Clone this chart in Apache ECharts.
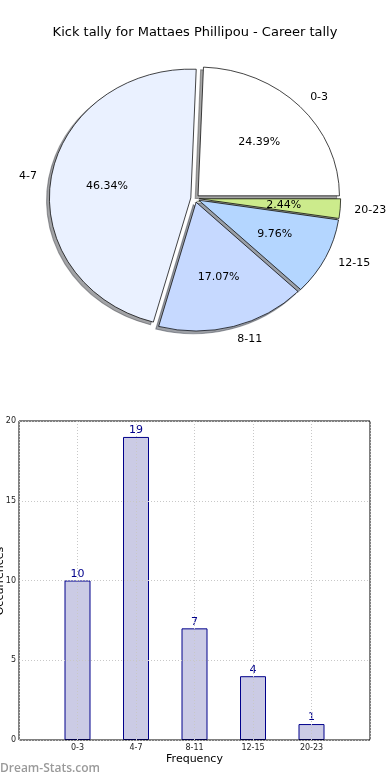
<!DOCTYPE html>
<html>
<head>
<meta charset="utf-8">
<script src="https://cdn.jsdelivr.net/npm/echarts@6/dist/echarts.min.js"></script>
<style>
html,body{margin:0;padding:0;background:#fff;}
#c{width:390px;height:780px;}
</style>
</head>
<body>
<div id="c"></div>
<script>
// ---- data ----
const titleText = 'Kick tally for Mattaes Phillipou - Career tally';
const pieCategories = ['0-3', '4-7', '8-11', '12-15', '20-23'];
const pieValues = [10, 19, 7, 4, 1];
const barCategories = ['0-3', '4-7', '8-11', '12-15', '20-23'];
const barValues = [10, 19, 7, 4, 1];
const yTicks = [0, 5, 10, 15, 20];
const yAxisTitle = 'Occurrences';

// ---- style ----
const pieColors = ['#ffffff', '#eaf1ff', '#c6d9ff', '#b4d6ff', '#cceb8c'];
const CX = 195, CY = 198.5, RX = 141.4, RY = 128.8;
const EXPLODE = 0.03;
const FONT = 'DejaVu Sans';

const total = pieValues.reduce((a, b) => a + b, 0);
function wedgeAngles(i) {
  let s = 0;
  for (let k = 0; k < i; k++) s += pieValues[k];
  const a1 = s / total * Math.PI * 2;
  const a2 = (s + pieValues[i]) / total * Math.PI * 2;
  return [a1, a2];
}
function darker(hex) {
  const n = parseInt(hex.slice(1), 16);
  const r = Math.round(((n >> 16) & 255) * 0.3), g = Math.round(((n >> 8) & 255) * 0.3), b = Math.round((n & 255) * 0.3);
  return 'rgba(' + r + ',' + g + ',' + b + ',0.5)';
}

function renderShadow(params, api) {
  const i = params.dataIndex;
  const [a1, a2] = wedgeAngles(i);
  const m = (a1 + a2) / 2;
  const ex = EXPLODE * RY * Math.cos(m) - 0.02 * RY;
  const ey = -EXPLODE * RY * Math.sin(m) + 0.02 * RY;
  return {
    type: 'group', x: CX, y: CY, scaleX: RX / RY,
    children: [{
      type: 'sector',
      shape: { cx: ex, cy: ey, r: RY, r0: 0, startAngle: -a2, endAngle: -a1, clockwise: true },
      style: { fill: darker(pieColors[i]), stroke: darker(pieColors[i]), lineWidth: 1, strokeNoScale: true }
    }]
  };
}

function renderWedge(params, api) {
  const i = params.dataIndex;
  const [a1, a2] = wedgeAngles(i);
  const m = (a1 + a2) / 2;
  const ex = EXPLODE * RY * Math.cos(m);
  const ey = -EXPLODE * RY * Math.sin(m);
  const c = Math.cos(m), s = Math.sin(m);
  const lx = CX + (EXPLODE + 1.1) * RX * c;
  const ly = CY - (EXPLODE + 1.1) * RY * s;
  const px = CX + (EXPLODE + 0.6) * RX * c;
  const py = CY - (EXPLODE + 0.6) * RY * s;
  const pct = (api.value(0) / total * 100).toFixed(2) + '%';
  return {
    type: 'group',
    children: [
      {
        type: 'group', x: CX, y: CY, scaleX: RX / RY,
        children: [{
          type: 'sector',
          shape: { cx: ex, cy: ey, r: RY, r0: 0, startAngle: -a2, endAngle: -a1, clockwise: true },
          style: { fill: pieColors[i], stroke: '#000', lineWidth: 0.7, strokeNoScale: true }
        }]
      },
      {
        type: 'text', x: lx, y: ly, z2: 10,
        style: { text: pieCategories[i], fill: '#000', font: '11px "' + FONT + '"',
          textAlign: c > 0 ? 'left' : 'right', textVerticalAlign: 'middle' }
      },
      {
        type: 'text', x: px, y: py, z2: 10,
        style: { text: pct, fill: '#000', font: '11px "' + FONT + '"',
          textAlign: 'center', textVerticalAlign: 'middle' }
      }
    ]
  };
}

const chart = echarts.init(document.getElementById('c'), null, { renderer: 'canvas' });
chart.setOption({
  animation: false,
  backgroundColor: '#fff',
  textStyle: { fontFamily: FONT },
  title: {
    text: titleText, left: 'center', top: 21,
    textStyle: { fontFamily: FONT, fontSize: 13, fontWeight: 'normal', color: '#000' }
  },
  graphic: [
    {
      type: 'text', left: 0, top: 763,
      style: { text: 'Dream-Stats.com', fill: '#9a9a9a', font: '600 12px "Open Sans"' }
    },
    {
      type: 'text', x: 6, y: 581, rotation: Math.PI / 2,
      style: { text: yAxisTitle, fill: '#000', font: '11px "DejaVu Sans"', align: 'center', verticalAlign: 'bottom' }
    }
  ],
  grid: {
    left: 19, right: 20, top: 421, bottom: 40, show: true,
    containLabel: false, outerBoundsMode: 'none',
    borderColor: '#000', borderWidth: 1, backgroundColor: 'transparent', z: 5
  },
  xAxis: {
    type: 'value', min: 0, max: 6, interval: 1,
    name: 'Frequency', nameLocation: 'middle', nameGap: 14,
    nameTextStyle: { fontFamily: FONT, fontSize: 11, color: '#000' },
    axisLine: { show: false }, axisTick: { show: false },
    axisLabel: {
      fontFamily: FONT, fontSize: 8, color: '#222', margin: 4,
      formatter: v => (v >= 1 && v <= barCategories.length) ? barCategories[v - 1] : ''
    },
    splitLine: { show: true, lineStyle: { color: '#c8c8c8', type: [1, 2], width: 1 } },
    z: 5
  },
  yAxis: {
    type: 'value', min: yTicks[0], max: yTicks[yTicks.length - 1], interval: 5,
    axisLine: { show: false }, axisTick: { show: false },
    axisLabel: { fontFamily: FONT, fontSize: 8, color: '#222', margin: 3 },
    splitLine: { show: true, lineStyle: { color: '#c8c8c8', type: [1, 2], width: 1 } },
    z: 5
  },
  series: [
    {
      type: 'custom', coordinateSystem: 'none', z: 1,
      data: pieValues.map(v => [v]), renderItem: renderShadow, silent: true
    },
    {
      type: 'custom', coordinateSystem: 'none', z: 2,
      data: pieValues.map(v => [v]), renderItem: renderWedge, silent: true
    },
    {
      type: 'bar', z: 1,
      data: barValues.map((v, i) => [i + 1, v]),
      barWidth: 26,
      itemStyle: { color: '#cbcbe5', borderColor: '#00008b', borderWidth: 1 },
      label: {
        show: true, position: 'top', distance: 1,
        fontFamily: FONT, fontSize: 11, color: '#00008b'
      }
    }
  ]
});
</script>
</body>
</html>
